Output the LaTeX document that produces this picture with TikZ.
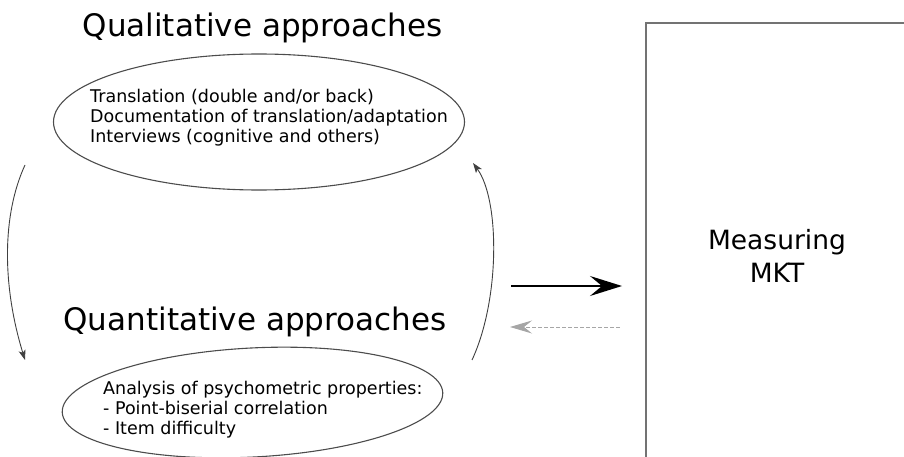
\documentclass[tikz,border=0pt]{standalone}
\usepackage{fontspec}
\setmainfont{DejaVu Sans}
\usetikzlibrary{shapes.geometric,arrows.meta}
\tikzset{
  bubble/.style={draw=black!70, line width=1.1pt, ellipse, inner sep=0pt},
  heading/.style={font=\fontsize{31}{36}\selectfont, anchor=base, inner sep=0pt},
  itemlist/.style={font=\fontsize{17.5}{20}\selectfont, align=left, anchor=base west, inner sep=0pt},
  loop/.style={draw=black!75, line width=0.9pt, -{Stealth[length=10pt,width=7pt,inset=2.5pt]}}
}
\begin{document}
\begin{tikzpicture}[x=1pt,y=-1pt]
\useasboundingbox (0,0) rectangle (904,457);
%\draw[step=50,gray,very thin] (0,0) grid (904,457); %background grid
\node[heading] (qualtitle) at (262.5,37) {Qualitative approaches};
\node[bubble, minimum width=411, minimum height=136] (qual) at (259,122) {};
\node[itemlist] (qualtext) at (90,143) {Translation (double and/or back)\\Documentation of translation/adaptation\\Interviews (cognitive and others)};
\node[heading] (quantitle) at (255,330) {Quantitative approaches};
\node[bubble, minimum width=381, minimum height=109, rotate=3] (quant) at (252.5,402.5) {};
\node[itemlist] (quanttext) at (103,434) {Analysis of psychometric properties:\\- Point-biserial correlation\\- Item difficulty};
\node[draw=black!55, line width=1.5pt, minimum width=262, minimum height=466, inner sep=0pt,
      align=center, font=\fontsize{26.5}{33}\selectfont] (mkt) at (777,256) {Measuring\\MKT};
% loop between the two approaches
\coordinate (l1) at (25,165); \coordinate (l2) at (25,360);
\coordinate (r1) at (472,360); \coordinate (r2) at (473,163);
\draw[loop] (l1) .. controls (2,215) and (2,285) .. (l2);
\draw[loop] (r1) .. controls (500,300) and (500,200) .. (r2);
% arrows to and from the box
\coordinate (s1) at (511,286); \coordinate (s2) at (622,286);
\coordinate (d1) at (620,327); \coordinate (d2) at (510,327);
\draw[line width=2pt, -{Stealth[length=32pt,width=20pt,inset=12pt]}] (s1) -- (s2);
\draw[gray!70, line width=1pt, dash pattern=on 4pt off 2pt, -{Stealth[length=22pt,width=13pt,inset=8pt]}] (d1) -- (d2);
\end{tikzpicture}
\end{document}
